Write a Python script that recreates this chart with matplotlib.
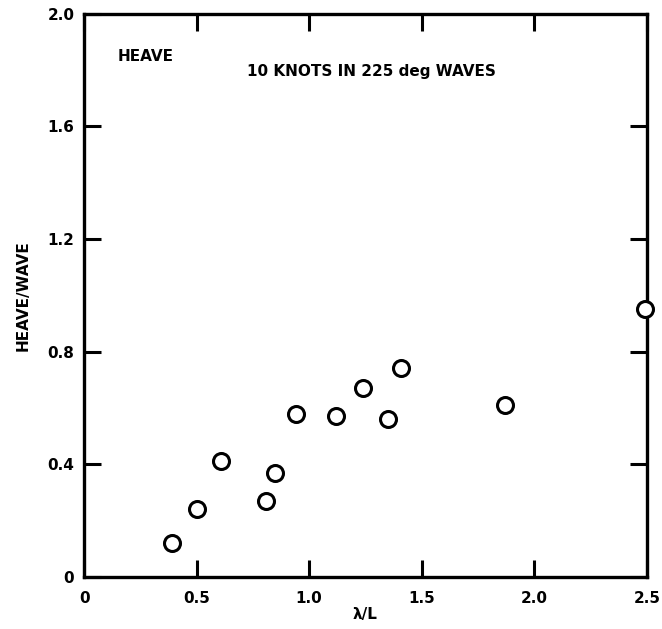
import matplotlib
matplotlib.use("Agg")
import matplotlib.pyplot as plt

# wave length ratio and heave response
lam_over_L = [0.39, 0.50, 0.61, 0.81, 0.85, 0.94, 1.12, 1.24, 1.35, 1.41, 1.87, 2.49]
heave_per_wave = [0.12, 0.24, 0.41, 0.27, 0.37, 0.58, 0.57, 0.67, 0.56, 0.74, 0.61, 0.95]

x_ticks = [0, 0.5, 1.0, 1.5, 2.0, 2.5]
x_labels = ["0", "0.5", "1.0", "1.5", "2.0", "2.5"]
y_ticks = [0, 0.4, 0.8, 1.2, 1.6, 2.0]
y_labels = ["0", "0.4", "0.8", "1.2", "1.6", "2.0"]

plt.rcParams['font.family'] = ['DejaVu Sans']
plt.rcParams['font.weight'] = 'bold'

fig = plt.figure(figsize=(6.62, 6.29), dpi=100)
ax = fig.add_axes([0.127, 0.083, 0.850, 0.895])

ax.plot(lam_over_L, heave_per_wave, 'o', ms=11.5, mfc='white', mec='black',
        mew=2.2, clip_on=False, zorder=5)

ax.set_xlim(0, 2.5)
ax.set_ylim(0, 2.0)
ax.set_xticks(x_ticks)
ax.set_xticklabels(x_labels)
ax.set_yticks(y_ticks)
ax.set_yticklabels(y_labels)
ax.tick_params(direction='in', length=12, width=2.2, top=True, right=True,
               labelsize=11, pad=10)
ax.tick_params(axis='y', pad=7)
for lab in ax.get_xticklabels() + ax.get_yticklabels():
    lab.set_fontweight('bold')
for sp in ax.spines.values():
    sp.set_linewidth(2.4)

ax.set_xlabel('λ/L', fontsize=11, fontweight='bold', labelpad=1)
ax.set_ylabel('HEAVE/WAVE', fontsize=11, fontweight='bold', labelpad=12)

ax.text(0.110, 0.925, 'HEAVE', transform=ax.transAxes, fontsize=11,
        fontweight='bold', ha='center', va='center')
ax.text(0.511, 0.898, '10 KNOTS IN 225 deg WAVES', transform=ax.transAxes,
        fontsize=11, fontweight='bold', ha='center', va='center')

fig.savefig('out.png', dpi=100)
